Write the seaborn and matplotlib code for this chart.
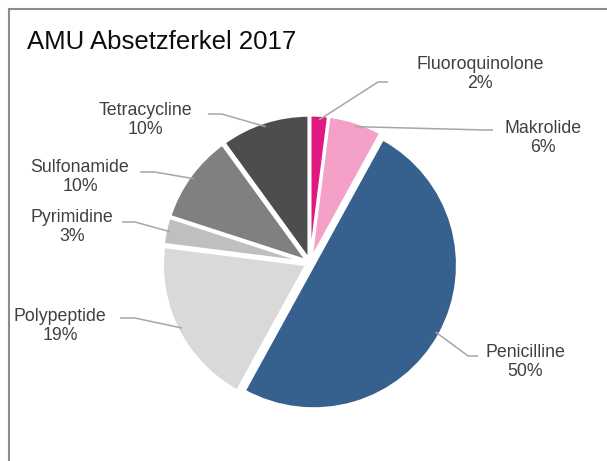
import numpy as np
import seaborn as sns
import matplotlib.pyplot as plt
from matplotlib.patches import Rectangle

sns.set_style('white')
plt.rcParams['font.family'] = ['Liberation Sans', 'DejaVu Sans']

# data
categories = ['Fluoroquinolone', 'Makrolide', 'Penicilline', 'Polypeptide',
              'Pyrimidine', 'Sulfonamide', 'Tetracycline']
shares = [2, 6, 50, 19, 3, 10, 10]
colors = ['#E0187F', '#F4A0C9', '#36618F', '#D9D9D9', '#BFBFBF', '#808080', '#4D4D4D']

# label layout (data units, 1 unit = pie radius)
label_xy = [(1.214, 1.350), (1.664, 0.893), (1.536, -0.707), (-1.786, -0.45),
            (-1.70, 0.257), (-1.643, 0.614), (-1.179, 1.021)]
elbow_xy = [(0.486, 1.293), (1.25, 0.95), (1.129, -0.664), (-1.25, -0.393),
            (-1.25, 0.293), (-1.11, 0.65), (-0.629, 1.064)]
end_xy = [(0.557, 1.293), (1.307, 0.95), (1.2, -0.664), (-1.357, -0.393),
          (-1.343, 0.293), (-1.214, 0.65), (-0.729, 1.064)]

fig = plt.figure(figsize=(6.07, 4.61), dpi=100)
ax = fig.add_axes([0, 0, 1, 1])

wedges, _ = ax.pie(shares, colors=colors, startangle=90, counterclock=False,
                   explode=[0.03] * len(shares), radius=1.025,
                   wedgeprops=dict(edgecolor='white', linewidth=1.8))

for w, name, val, txy, exy, nxy in zip(wedges, categories, shares,
                                         label_xy, elbow_xy, end_xy):
    mid = np.deg2rad((w.theta1 + w.theta2) / 2)
    cx, cy = w.center
    sx, sy = cx + 0.97 * w.r * np.cos(mid), cy + 0.97 * w.r * np.sin(mid)
    ax.plot([sx, exy[0], nxy[0]], [sy, exy[1], nxy[1]], color='#A6A6A6', lw=1.1,
            solid_capstyle='butt')
    ax.text(txy[0], txy[1], f'{name}\n{val}%', ha='center', va='center',
            fontsize=12.8, color='#404040', linespacing=1.2)

ax.set_xlim(-310 / 140, 297 / 140)
ax.set_ylim(-(461 - 263) / 140, 263 / 140)
ax.set_aspect('equal')
ax.axis('off')

fig.text(27 / 607, 1 - 42 / 461, 'AMU Absetzferkel 2017', fontsize=18.5,
         color='#0D0D0D', ha='left', va='center')

fig.patches.append(Rectangle((8.5 / 607, -0.1), 1.2, 1 - 9 / 461 + 0.1,
                             transform=fig.transFigure, fill=False,
                             edgecolor='#8C8C8C', linewidth=1.5))

fig.savefig('out.png', dpi=100)
